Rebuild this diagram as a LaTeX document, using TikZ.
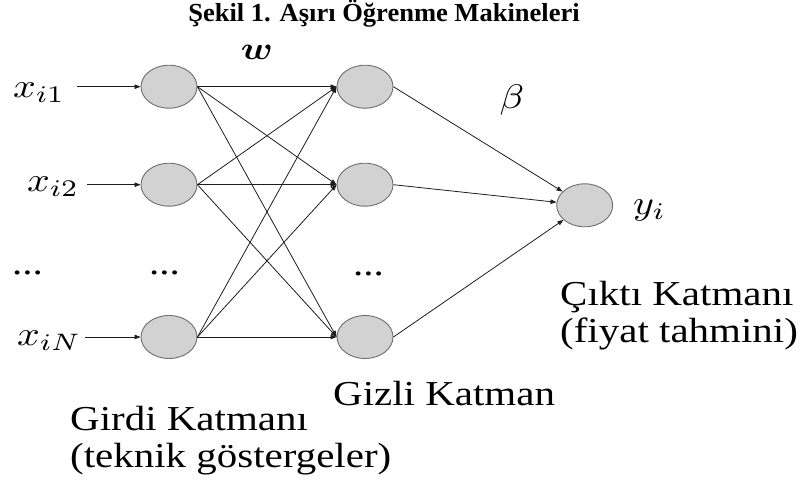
\documentclass[tikz,border=0pt]{standalone}
\usepackage{amsmath}
\usepackage{bm}
\usepackage{graphicx}
\usepackage{fontspec}
\setmainfont{Liberation Serif}
\usetikzlibrary{shapes.geometric,arrows.meta}
\definecolor{nodefill}{RGB}{210,210,210}
\definecolor{nodeedge}{RGB}{110,110,110}
\definecolor{linecol}{RGB}{30,30,30}
\newcommand{\hstretch}[1]{\scalebox{1.17}[1]{#1}}
% math at 10pt, enlarged to about 34pt and stretched like the text
\newcommand{\bigmath}[1]{\scalebox{3.98}[3.4]{#1}}
\tikzset{
  neuron/.style={ellipse, draw=nodeedge, fill=nodefill, line width=0.9pt,
    minimum width=56pt, minimum height=43pt, inner sep=0pt},
  conn/.style={draw=linecol, line width=0.8pt, -{Triangle[length=6pt,width=4.5pt]}},
  lbl/.style={inner sep=0pt, anchor=base west, font=\fontsize{35}{37}\selectfont},
  mlbl/.style={inner sep=0pt, anchor=base west, font=\fontsize{10}{12}\selectfont},
}
\begin{document}
\begin{tikzpicture}[x=1pt,y=-1pt]
\useasboundingbox (0,0) rectangle (805,485);
% title
\node[inner sep=0pt, anchor=base, font=\bfseries\fontsize{26}{28}\selectfont] (title) at (384,21.5)
  {\scalebox{1.02}[1]{Şekil 1. Aşırı Öğrenme Makineleri}};
% neurons
\node[neuron] (i1) at (169,86.7) {};
\node[neuron] (i2) at (169,184.7) {};
\node[neuron] (i3) at (169,337) {};
\node[neuron] (h1) at (365,86.7) {};
\node[neuron] (h2) at (365,184.7) {};
\node[neuron] (h3) at (365,337) {};
\node[neuron] (o) at (584.7,205.3) {};
% input labels
\node[mlbl] (xi1) at (13,97) {\bigmath{$x_{i1}$}};
\node[mlbl] (xi2) at (27,191.7) {\bigmath{$x_{i2}$}};
\node[mlbl] (xiN) at (17,345) {\bigmath{$x_{iN}$}};
\coordinate (s1) at (77,86.7);
\coordinate (s2) at (87,184.7);
\coordinate (s3) at (85,337);
\draw[conn] (s1) -- (i1.west);
\draw[conn] (s2) -- (i2.west);
\draw[conn] (s3) -- (i3.west);
% dots
\node[lbl] (d1) at (12,274) {\hstretch{...}};
\node[lbl] (d2) at (149,274) {\hstretch{...}};
\node[lbl] (d3) at (353,275) {\hstretch{...}};
% weights between input and hidden
\foreach \a in {i1,i2,i3}{
  \foreach \b in {h1,h2,h3}{
    \draw[conn] (\a.east) -- (\b.west);
  }
}
% hidden to output
\draw[conn] (h1.east) -- (o);
\draw[conn] (h2.east) -- (o);
\draw[conn] (h3.east) -- (o);
% symbols
\node[inner sep=0pt, font=\fontsize{10}{12}\selectfont] (w) at (257,52) {\scalebox{3.74}[3.2]{$\bm{w}$}};
\node[inner sep=0pt, font=\fontsize{10}{12}\selectfont] (beta) at (512,100) {\bigmath{$\beta$}};
\node[mlbl] (yi) at (633,214) {\bigmath{$y_{i}$}};
% layer captions
\node[lbl] (girdi1) at (70,430) {\hstretch{Girdi Katmanı}};
\node[lbl] (girdi2) at (70,467) {\hstretch{(teknik göstergeler)}};
\node[lbl] (gizli) at (333,405) {\hstretch{Gizli Katman}};
\node[lbl] (cikti1) at (560,305) {\hstretch{Çıktı Katmanı}};
\node[lbl] (cikti2) at (560,342) {\hstretch{(fiyat tahmini)}};
\end{tikzpicture}
\end{document}
